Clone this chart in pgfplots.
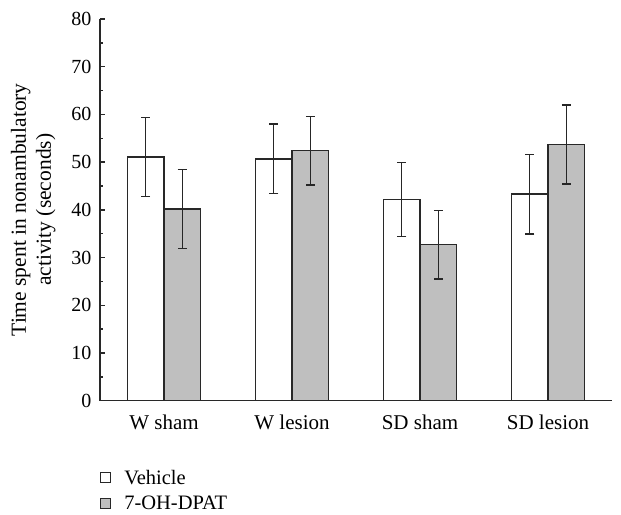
\documentclass[border=0pt]{standalone}
\usepackage{pgfplots}
\pgfplotsset{compat=1.18}
\usepackage{fontspec}
\setmainfont{Liberation Serif}
\definecolor{barfill}{RGB}{191,191,191}
\definecolor{edge}{RGB}{40,40,40}
\begin{document}
\begin{tikzpicture}
\begin{axis}[
  at={(0,0)}, anchor=south west,
  scale only axis,
  width=512pt, height=381.7pt,
  xmin=-0.5, xmax=3.5, ymin=0, ymax=80,
  axis x line=bottom, axis y line=left,
  axis line style={-, line width=1.5pt, draw=edge},
  ybar=0pt, bar width=36.5pt,
  xtick={0,1,2,3},
  xticklabels={W sham, W lesion, SD sham, SD lesion},
  x tick style={draw=none},
  extra x ticks={0.5,1.5,2.5},
  extra x tick labels={},
  extra x tick style={tick align=outside, major tick length=7pt, tick style={draw=edge, line width=1.4pt}},
  ytick={0,10,...,80},
  minor y tick num=1,
  y tick style={draw=edge, line width=1.4pt},
  tick align=inside,
  major tick length=5.5pt, minor tick length=3.5pt,
  yticklabel style={font=\fontsize{20}{24}\selectfont, xshift=-5pt},
  xticklabel style={font=\fontsize{21}{25}\selectfont, yshift=-11pt},
  /pgf/number format/assume math mode=true,
  ylabel={Time spent in nonambulatory\\activity (seconds)},
  ylabel style={align=center, font=\fontsize{21.5}{25}\selectfont, yshift=9pt},
  legend style={draw=none, at={(0,0)}, anchor=north west, yshift=-68pt, inner sep=0pt,
    nodes={inner sep=1pt},
    font=\fontsize{20.5}{24}\selectfont, row sep=8.5pt, legend cell align=left,
    /tikz/every odd column/.append style={column sep=12pt}},
  legend image code/.code={\draw[#1, line width=1.1pt] (1pt,-5pt) rectangle (11pt,5pt);},
  legend cell align=left,
  error bars/error bar style={line width=1.4pt, draw=black!85},
  error bars/error mark options={rotate=90, mark size=4.5pt, line width=1.4pt, draw=black!85},
]
\addplot[fill=white, draw=edge, line width=1.4pt,
  error bars/.cd, y dir=both, y explicit]
  coordinates {
  (0,51.1) +- (0,8.3)
  (1,50.7) +- (0,7.3)
  (2,42.2) +- (0,7.75)
  (3,43.3) +- (0,8.35)
  };
\addlegendentry{Vehicle}
\addplot[fill=barfill, draw=edge, line width=1.4pt,
  error bars/.cd, y dir=both, y explicit]
  coordinates {
  (0,40.2) +- (0,8.3)
  (1,52.4) +- (0,7.2)
  (2,32.7) +- (0,7.2)
  (3,53.7) +- (0,8.3)
  };
\addlegendentry{7-OH-DPAT}
\end{axis}
\pgfresetboundingbox
\useasboundingbox (-100pt,-113.3pt) rectangle (521pt,400.7pt);
\end{tikzpicture}
\end{document}
